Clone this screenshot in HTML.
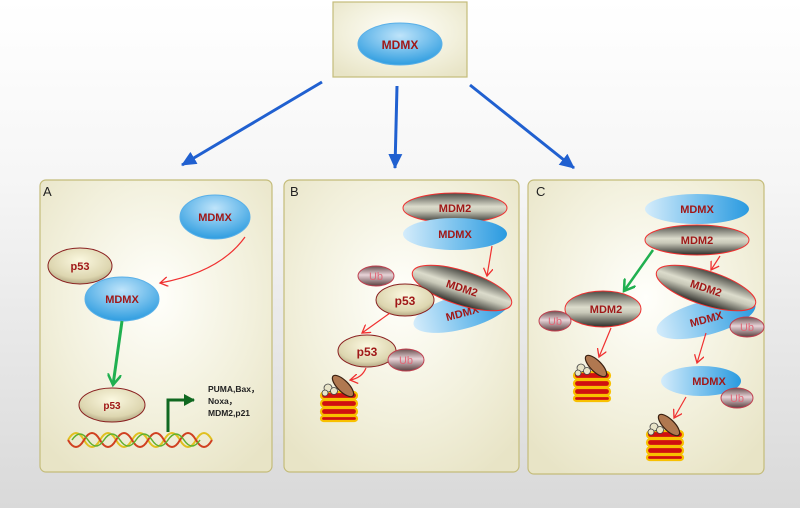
<!DOCTYPE html>
<html><head><meta charset="utf-8"><style>html,body{margin:0;padding:0}svg{display:block}</style></head><body>
<svg width="800" height="508" viewBox="0 0 800 508" xmlns="http://www.w3.org/2000/svg" font-family="Liberation Sans, sans-serif">
<defs>
<linearGradient id="bg" x1="0" y1="0" x2="0" y2="1"><stop offset="0" stop-color="#ffffff"/><stop offset="0.35" stop-color="#f6f6f6"/><stop offset="1" stop-color="#d9d9d9"/></linearGradient>
<radialGradient id="pan" cx="0.5" cy="0.4" r="0.7"><stop offset="0" stop-color="#fffffb"/><stop offset="0.6" stop-color="#f2f0dc"/><stop offset="1" stop-color="#e8e4c6"/></radialGradient>
<linearGradient id="blue" x1="0" y1="0" x2="1" y2="0"><stop offset="0" stop-color="#d4ecfb"/><stop offset="0.5" stop-color="#7cc3ee"/><stop offset="1" stop-color="#2a9ae0"/></linearGradient>
<radialGradient id="blueR" cx="0.5" cy="0.3" r="0.7"><stop offset="0" stop-color="#bfe4fa"/><stop offset="1" stop-color="#2f9de0"/></radialGradient>
<linearGradient id="m2" x1="0" y1="0" x2="0" y2="1"><stop offset="0" stop-color="#4a4a44"/><stop offset="0.45" stop-color="#dcdccc"/><stop offset="0.6" stop-color="#c8c8b8"/><stop offset="1" stop-color="#2c2c28"/></linearGradient>
<radialGradient id="p53" cx="0.5" cy="0.35" r="0.7"><stop offset="0" stop-color="#fbf8e0"/><stop offset="0.7" stop-color="#ddd6b0"/><stop offset="1" stop-color="#a89c78"/></radialGradient>
<linearGradient id="ub" x1="0" y1="0" x2="0" y2="1"><stop offset="0" stop-color="#6a5050"/><stop offset="0.45" stop-color="#e8d4d8"/><stop offset="1" stop-color="#5a4040"/></linearGradient>
<marker id="ar" markerWidth="10" markerHeight="10" refX="8" refY="5" orient="auto" markerUnits="userSpaceOnUse"><path d="M0,0 L8,5 L0,10" fill="none" stroke="#f03030" stroke-width="1.3"/></marker>
<marker id="ag" markerWidth="14" markerHeight="14" refX="11" refY="7" orient="auto" markerUnits="userSpaceOnUse"><path d="M0,0 L11,7 L0,14" fill="none" stroke="#20b050" stroke-width="2.5"/></marker>
<marker id="ab" markerWidth="16" markerHeight="14" refX="14" refY="7" orient="auto" markerUnits="userSpaceOnUse"><path d="M0,0 L15,7 L0,14 Z" fill="#2060d0"/></marker>
<marker id="adg" markerWidth="12" markerHeight="12" refX="10" refY="6" orient="auto" markerUnits="userSpaceOnUse"><path d="M0,0 L11,6 L0,12 Z" fill="#106820"/></marker>
<g id="prot">
<rect x="-18" y="-8" width="36" height="7" rx="3.5" fill="#d01010" stroke="#f8c000" stroke-width="2.2"/>
<rect x="-18" y="0" width="36" height="7" rx="3.5" fill="#d01010" stroke="#f8c000" stroke-width="2.2"/>
<rect x="-18" y="8" width="36" height="7" rx="3.5" fill="#d01010" stroke="#f8c000" stroke-width="2.2"/>
<rect x="-18" y="16" width="36" height="5" rx="2.5" fill="#d01010" stroke="#f8c000" stroke-width="2.2"/>
<circle cx="-11" cy="-12" r="4" fill="#e8e4c8" stroke="#444" stroke-width="0.8"/>
<circle cx="-5" cy="-9" r="3.5" fill="#e8e4c8" stroke="#444" stroke-width="0.8"/>
<circle cx="-14" cy="-7" r="3" fill="#e8e4c8" stroke="#444" stroke-width="0.8"/>
<ellipse cx="4" cy="-14" rx="5.5" ry="14" transform="rotate(-45 4 -14)" fill="#b07850" stroke="#3a2010" stroke-width="1.2"/>
</g>
</defs>
<rect width="800" height="508" fill="url(#bg)"/>
<rect x="333" y="2" width="134" height="75" fill="url(#pan)" stroke="#c4bc7a" stroke-width="1.2"/>
<ellipse cx="400" cy="44" rx="42" ry="21" fill="url(#blueR)" stroke="#5ab0e8"/>
<text x="400" y="49" text-anchor="middle" font-size="12" font-weight="bold" fill="#a01818">MDMX</text>
<line x1="322" y1="82" x2="182" y2="165" stroke="#2060d0" stroke-width="3" marker-end="url(#ab)"/>
<line x1="397" y1="86" x2="395" y2="168" stroke="#2060d0" stroke-width="3" marker-end="url(#ab)"/>
<line x1="470" y1="85" x2="574" y2="168" stroke="#2060d0" stroke-width="3" marker-end="url(#ab)"/>
<rect x="40" y="180" width="232" height="292" rx="6" fill="url(#pan)" stroke="#c4bc7a" stroke-width="1.2"/>
<rect x="284" y="180" width="235" height="292" rx="6" fill="url(#pan)" stroke="#c4bc7a" stroke-width="1.2"/>
<rect x="528" y="180" width="236" height="294" rx="6" fill="url(#pan)" stroke="#c4bc7a" stroke-width="1.2"/>
<text x="43" y="196" font-size="13" fill="#222">A</text>
<text x="290" y="196" font-size="13" fill="#222">B</text>
<text x="536" y="196" font-size="13" fill="#222">C</text>
<ellipse cx="215" cy="217" rx="35" ry="22" fill="url(#blueR)" stroke="#5ab0e8"/>
<text x="215" y="221" text-anchor="middle" font-size="11" font-weight="bold" fill="#a01818">MDMX</text>
<ellipse cx="80" cy="266" rx="32" ry="18" fill="url(#p53)" stroke="#8a2020"/>
<text x="80" y="270" text-anchor="middle" font-size="11" font-weight="bold" fill="#a01818">p53</text>
<path d="M245,237 Q220,272 160,283" fill="none" stroke="#f03030" stroke-width="1.2" marker-end="url(#ar)"/>
<ellipse cx="122" cy="299" rx="37" ry="22" fill="url(#blueR)" stroke="#5ab0e8"/>
<text x="122" y="303" text-anchor="middle" font-size="11" font-weight="bold" fill="#a01818">MDMX</text>
<line x1="122" y1="321" x2="113" y2="385" stroke="#20b050" stroke-width="3" marker-end="url(#ag)"/>
<ellipse cx="112" cy="405" rx="33" ry="17" fill="url(#p53)" stroke="#8a2020"/>
<text x="112" y="409" text-anchor="middle" font-size="10" font-weight="bold" fill="#a01818">p53</text>
<path d="M68,440 q8,-14 16,0 t16,0 t16,0 t16,0 t16,0 t16,0 t16,0 t16,0 t16,0" fill="none" stroke="#e0c020" stroke-width="2"/>
<path d="M68,440 q8,14 16,0 t16,0 t16,0 t16,0 t16,0 t16,0 t16,0 t16,0 t16,0" fill="none" stroke="#d04020" stroke-width="2"/>
<path d="M72,440 q8,-12 16,0 t16,0 t16,0 t16,0 t16,0 t16,0 t16,0 t16,0" fill="none" stroke="#60b030" stroke-width="1.5"/>
<polyline points="168,432 168,400 194,400" fill="none" stroke="#106820" stroke-width="3" marker-end="url(#adg)"/>
<text font-size="8.5" font-weight="bold" fill="#222"><tspan x="208" y="392">PUMA,Bax，</tspan><tspan x="208" y="404">Noxa，</tspan><tspan x="208" y="416">MDM2,p21</tspan></text>
<ellipse cx="455" cy="208" rx="52" ry="15" fill="url(#m2)" stroke="#f03030"/>
<text x="455" y="212" text-anchor="middle" font-size="11" font-weight="bold" fill="#a01818">MDM2</text>
<ellipse cx="455" cy="234" rx="52" ry="16" fill="url(#blue)"/>
<text x="455" y="238" text-anchor="middle" font-size="11" font-weight="bold" fill="#a01818">MDMX</text>
<line x1="492" y1="246" x2="487" y2="276" stroke="#f03030" stroke-width="1.2" marker-end="url(#ar)"/>
<g transform="rotate(-15 462 312)"><ellipse cx="462" cy="312" rx="50" ry="17" fill="url(#blue)"/><text x="462" y="317" text-anchor="middle" font-size="11" font-weight="bold" fill="#a01818">MDMX</text></g>
<g transform="rotate(18 462 288)"><ellipse cx="462" cy="288" rx="52" ry="17" fill="url(#m2)" stroke="#f03030"/><text x="462" y="292" text-anchor="middle" font-size="11" font-weight="bold" fill="#a01818">MDM2</text></g>
<ellipse cx="376" cy="276" rx="18" ry="10" fill="url(#ub)" stroke="#c04050"/>
<text x="376" y="280" text-anchor="middle" font-size="11" fill="#e06878">Ub</text>
<ellipse cx="405" cy="300" rx="29" ry="16" fill="url(#p53)" stroke="#8a2020"/>
<text x="405" y="305" text-anchor="middle" font-size="12" font-weight="bold" fill="#a01818">p53</text>
<line x1="390" y1="313" x2="362" y2="333" stroke="#f03030" stroke-width="1.2" marker-end="url(#ar)"/>
<ellipse cx="367" cy="351" rx="29" ry="16" fill="url(#p53)" stroke="#8a2020"/>
<text x="367" y="356" text-anchor="middle" font-size="12" font-weight="bold" fill="#a01818">p53</text>
<ellipse cx="406" cy="360" rx="18" ry="11" fill="url(#ub)" stroke="#c04050"/>
<text x="406" y="364" text-anchor="middle" font-size="11" fill="#e06878">Ub</text>
<path d="M366,368 Q362,378 350,380" fill="none" stroke="#f03030" stroke-width="1.2" marker-end="url(#ar)"/>
<use href="#prot" x="339" y="400"/>
<ellipse cx="697" cy="209" rx="52" ry="15" fill="url(#blue)"/>
<text x="697" y="213" text-anchor="middle" font-size="11" font-weight="bold" fill="#a01818">MDMX</text>
<ellipse cx="697" cy="240" rx="52" ry="15" fill="url(#m2)" stroke="#f03030"/>
<text x="697" y="244" text-anchor="middle" font-size="11" font-weight="bold" fill="#a01818">MDM2</text>
<line x1="720" y1="256" x2="711" y2="270" stroke="#f03030" stroke-width="1.2" marker-end="url(#ar)"/>
<line x1="653" y1="250" x2="624" y2="291" stroke="#20b050" stroke-width="2.5" marker-end="url(#ag)"/>
<g transform="rotate(-15 706 318)"><ellipse cx="706" cy="318" rx="51" ry="17" fill="url(#blue)"/><text x="706" y="323" text-anchor="middle" font-size="11" font-weight="bold" fill="#a01818">MDMX</text></g>
<g transform="rotate(18 706 288)"><ellipse cx="706" cy="288" rx="52" ry="17" fill="url(#m2)" stroke="#f03030"/><text x="706" y="292" text-anchor="middle" font-size="11" font-weight="bold" fill="#a01818">MDM2</text></g>
<ellipse cx="747" cy="327" rx="17" ry="10" fill="url(#ub)" stroke="#c04050"/>
<text x="747" y="331" text-anchor="middle" font-size="11" fill="#e06878">Ub</text>
<ellipse cx="603" cy="309" rx="38" ry="18" fill="url(#m2)" stroke="#f03030"/>
<text x="606" y="313" text-anchor="middle" font-size="11" font-weight="bold" fill="#a01818">MDM2</text>
<ellipse cx="555" cy="321" rx="16" ry="10" fill="url(#ub)" stroke="#c04050"/>
<text x="555" y="325" text-anchor="middle" font-size="11" fill="#e06878">Ub</text>
<line x1="611" y1="328" x2="599" y2="357" stroke="#f03030" stroke-width="1.2" marker-end="url(#ar)"/>
<use href="#prot" x="592" y="380"/>
<line x1="706" y1="333" x2="697" y2="363" stroke="#f03030" stroke-width="1.2" marker-end="url(#ar)"/>
<ellipse cx="701" cy="381" rx="40" ry="15" fill="url(#blue)"/>
<text x="709" y="385" text-anchor="middle" font-size="11" font-weight="bold" fill="#a01818">MDMX</text>
<ellipse cx="737" cy="398" rx="16" ry="10" fill="url(#ub)" stroke="#c04050"/>
<text x="737" y="402" text-anchor="middle" font-size="11" fill="#e06878">Ub</text>
<line x1="686" y1="397" x2="674" y2="418" stroke="#f03030" stroke-width="1.2" marker-end="url(#ar)"/>
<use href="#prot" x="665" y="439"/>
</svg>
</body></html>
